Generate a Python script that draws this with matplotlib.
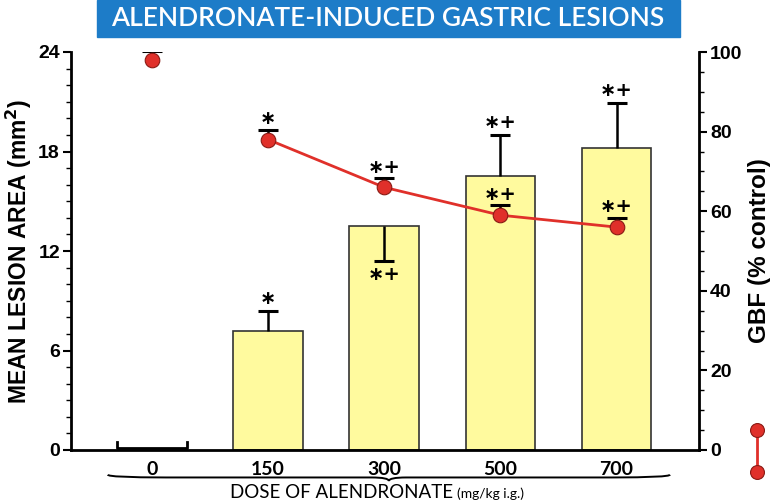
import matplotlib
matplotlib.use('Agg')
import matplotlib.pyplot as plt
from matplotlib.path import Path
from matplotlib.patches import PathPatch, Rectangle
from matplotlib.lines import Line2D
from matplotlib.ticker import MultipleLocator
import matplotlib.transforms as mtransforms
import numpy as np

# Datos
doses = ['0', '150', '300', '500', '700']
lesion = [0, 7.2, 13.5, 16.5, 18.2]          # mm2
lesion_err = [0, 1.2, 2.1, 2.5, 2.75]
lesion_err_dir = [1, 1, -1, 1, 1]            # 300: barra de error hacia abajo
lesion_sig = ['', '∗', '∗+', '∗+', '∗+']
gbf = [98, 78, 66, 59, 56]                   # % control
gbf_err = [2.3, 2.4, 2.3, 2.5, 2.4]
gbf_sig = ['', '∗', '∗+', '∗+', '∗+']

title = 'ALENDRONATE-INDUCED GASTRIC LESIONS'
bar_color = '#fffa9e'
red = '#e0302a'
blue = '#1d7cc8'
num_font = ['Liberation Sans Narrow', 'Liberation Sans', 'DejaVu Sans']
geo_font = ['Lato', 'DejaVu Sans']
sig_font = ['DejaVu Sans']

fig = plt.figure(figsize=(7.74, 5.03), dpi=100)
ax = fig.add_axes([71/774, 53/503, 628/774, 398/503])
x = np.arange(len(doses))
w = 0.6


def err_whisker(axis, xi, y0, y1):
    # barra de error de un solo lado con su tope
    axis.plot([xi, xi], [y0, y1], color='black', lw=1.8, zorder=3, solid_capstyle='butt')
    axis.plot([xi], [y1], marker='_', ms=15, mew=2.2, color='black', zorder=3)


# barras (el control se dibuja como un corchete sobre el eje)
ax.bar(x[1:], lesion[1:], width=w, color=bar_color, edgecolor='#333333', linewidth=1.2, zorder=2)
ax.plot([x[0]-w/2, x[0]-w/2, x[0]+w/2, x[0]+w/2],
        [lesion[0]+0.5, lesion[0]+0.15, lesion[0]+0.15, lesion[0]+0.5], color='black', lw=2,
        zorder=4, clip_on=False)
for i in range(1, len(doses)):
    d = lesion_err_dir[i]
    end = lesion[i] + d * lesion_err[i]
    err_whisker(ax, x[i], lesion[i], end)
    ax.annotate(lesion_sig[i], (x[i], end), xytext=(0, 9 if d > 0 else -10), textcoords='offset points',
                ha='center', va='center', fontsize=14, fontweight='bold', family=sig_font, zorder=5)

ax.set_xlim(-0.697, 4.71)
ax.set_ylim(0, 24)
ax.yaxis.set_major_locator(MultipleLocator(6))
ax.yaxis.set_minor_locator(MultipleLocator(1))
ax.set_xticks(x)
ax.set_xticklabels(doses, fontsize=14, family=geo_font, fontweight='bold')
ax.tick_params(axis='x', length=0, pad=8)
ax.tick_params(axis='y', which='major', length=6, width=1.5, labelsize=14, pad=2)
ax.tick_params(axis='y', which='minor', length=3.5, width=1)
for lab in ax.get_yticklabels():
    lab.set_fontweight('bold'); lab.set_family(num_font)
ax.spines['top'].set_visible(False)
ax.spines['right'].set_visible(False)
ax.spines['left'].set_linewidth(2)
ax.spines['bottom'].set_linewidth(2)
ax.set_ylabel('MEAN LESION AREA (mm$^{\\mathbf{2}}$)', fontsize=16.5, fontweight='bold', family=num_font, labelpad=3)

# GBF en el eje derecho
ax2 = ax.twinx()
ax2.set_ylim(0, 100)
ax2.plot(x[1:], gbf[1:], color=red, lw=2, zorder=3)
for i in range(len(doses)):
    err_whisker(ax2, x[i], gbf[i], gbf[i] + gbf_err[i])
ax2.plot(x, gbf, 'o', ms=10.5, mfc=red, mec='#8a1a14', mew=0.8, zorder=4)
for i in range(len(doses)):
    if gbf_sig[i]:
        ax2.annotate(gbf_sig[i], (x[i], gbf[i] + gbf_err[i]), xytext=(0, 8), textcoords='offset points',
                     ha='center', va='center', fontsize=14, fontweight='bold', family=sig_font, zorder=5)
ax2.yaxis.set_major_locator(MultipleLocator(20))
ax2.yaxis.set_minor_locator(MultipleLocator(5))
ax2.tick_params(axis='y', which='major', length=6, width=1.5, labelsize=14, pad=2)
ax2.tick_params(axis='y', which='minor', length=3.5, width=1)
for lab in ax2.get_yticklabels():
    lab.set_fontweight('bold'); lab.set_family(num_font)
for s in ['top', 'left', 'bottom']:
    ax2.spines[s].set_visible(False)
ax2.spines['right'].set_linewidth(2)
ax2.set_ylabel('GBF (% control)', fontsize=17.5, fontweight='bold', family=num_font, labelpad=4)

# llave bajo las etiquetas del eje x
trans = mtransforms.blended_transform_factory(ax.transData, ax.transAxes)
x0, x1 = -0.38, 4.46
xm = (x0 + x1) / 2
yt, yl, yp = -0.062, -0.069, -0.078
verts = [(x0, yt), (x0, yl), (x0+0.5, yl), (xm-0.15, yl), (xm, yl), (xm, yp),
         (xm, yl), (xm+0.15, yl), (x1-0.5, yl), (x1, yl), (x1, yt)]
codes = [Path.MOVETO, Path.CURVE3, Path.CURVE3, Path.LINETO, Path.CURVE3, Path.CURVE3,
         Path.CURVE3, Path.CURVE3, Path.LINETO, Path.CURVE3, Path.CURVE3]
ax.add_patch(PathPatch(Path(verts, codes), transform=trans, fill=False, lw=1.4,
                       edgecolor='black', clip_on=False))

fig.text(453/774, 1-493/503, 'DOSE OF ALENDRONATE', ha='right', va='center', fontsize=13.5, family=geo_font)
fig.text(457/774, 1-494/503, '(mg/kg i.g.)', ha='left', va='center', fontsize=10, family=geo_font)

# título en caja azul
fig.patches.append(Rectangle((97/774, 1-37/503), 583/774, 37/503, transform=fig.transFigure,
                             color=blue, zorder=0))
fig.text(388/774, 1-19/503, title, ha='center', va='center', fontsize=19, color='white',
         family=geo_font, fontweight='semibold')

# leyenda del GBF
fig.add_artist(Line2D([757/774, 757/774], [1-430/503, 1-472/503], transform=fig.transFigure,
                      color=red, lw=2, marker='o', ms=10, mfc=red, mec='#8a1a14', mew=0.8))

fig.savefig('out.png', dpi=100)
